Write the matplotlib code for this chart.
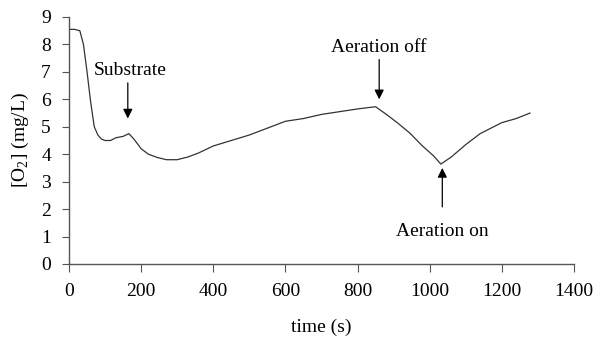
import matplotlib
matplotlib.use("Agg")
from matplotlib import pyplot as plt

plt.rcParams['font.family'] = ['Liberation Serif', 'DejaVu Serif']
plt.rcParams['mathtext.fontset'] = 'custom'
plt.rcParams['mathtext.rm'] = 'Liberation Serif'

# dissolved oxygen trace
time_s = [0, 15, 30, 40, 50, 60, 70, 80, 90, 100, 115, 130, 150, 166,
          180, 200, 220, 245, 270, 300, 330, 360, 400, 450, 500, 550,
          600, 650, 700, 750, 800, 850, 880, 910, 945, 980, 1010, 1031,
          1060, 1100, 1140, 1170, 1200, 1240, 1278]
o2 = [8.55, 8.55, 8.5, 8.0, 7.0, 5.9, 5.0, 4.7, 4.55, 4.5, 4.5, 4.6, 4.65, 4.75,
      4.55, 4.2, 4.0, 3.88, 3.8, 3.8, 3.9, 4.05, 4.3, 4.5, 4.7, 4.95,
      5.2, 5.3, 5.45, 5.55, 5.65, 5.73, 5.45, 5.15, 4.77, 4.3, 3.95, 3.64,
      3.9, 4.35, 4.75, 4.95, 5.15, 5.3, 5.5]

# annotations: label, arrow tip (t, value), arrow tail (t, value), text position (t, value)
notes = [("Substrate", (163, 5.3), (163, 6.6), (170, 7.05)),
         ("Aeration off", (860, 6.0), (860, 7.45), (860, 7.9)),
         ("Aeration on", (1035, 3.5), (1035, 2.08), (1035, 1.17))]

fig = plt.figure(figsize=(5.96, 3.44), dpi=100)
ax = fig.add_axes([0.1158, 0.2326, 0.8472, 0.718])

ax.plot(time_s, o2, color='#333333', lw=0.9)

for label, tip, tail, txt in notes:
    ax.annotate('', xy=tip, xytext=tail,
                arrowprops=dict(arrowstyle='-|>', color='black', lw=0.9,
                                mutation_scale=14, shrinkA=0, shrinkB=0))
    ax.text(txt[0], txt[1], label, fontsize=14, ha='center', va='center')

ax.set_xlim(0, 1400)
ax.set_ylim(0, 9)
ax.set_xticks(range(0, 1401, 200))
ax.set_yticks(range(0, 10))
ax.spines['top'].set_visible(False)
ax.spines['right'].set_visible(False)
for s in ('left', 'bottom'):
    ax.spines[s].set_color('#555555')
    ax.spines[s].set_linewidth(1.0)
ax.tick_params(axis='x', direction='out', length=6, pad=8, labelsize=14, color='#555555')
ax.tick_params(axis='y', direction='out', length=5, pad=8, labelsize=14, color='#555555')

ax.set_xlabel('time (s)', fontsize=14, labelpad=13)
ax.set_ylabel('[O$_2$] (mg/L)', fontsize=14, labelpad=7)

fig.savefig('out.png', dpi=100)
